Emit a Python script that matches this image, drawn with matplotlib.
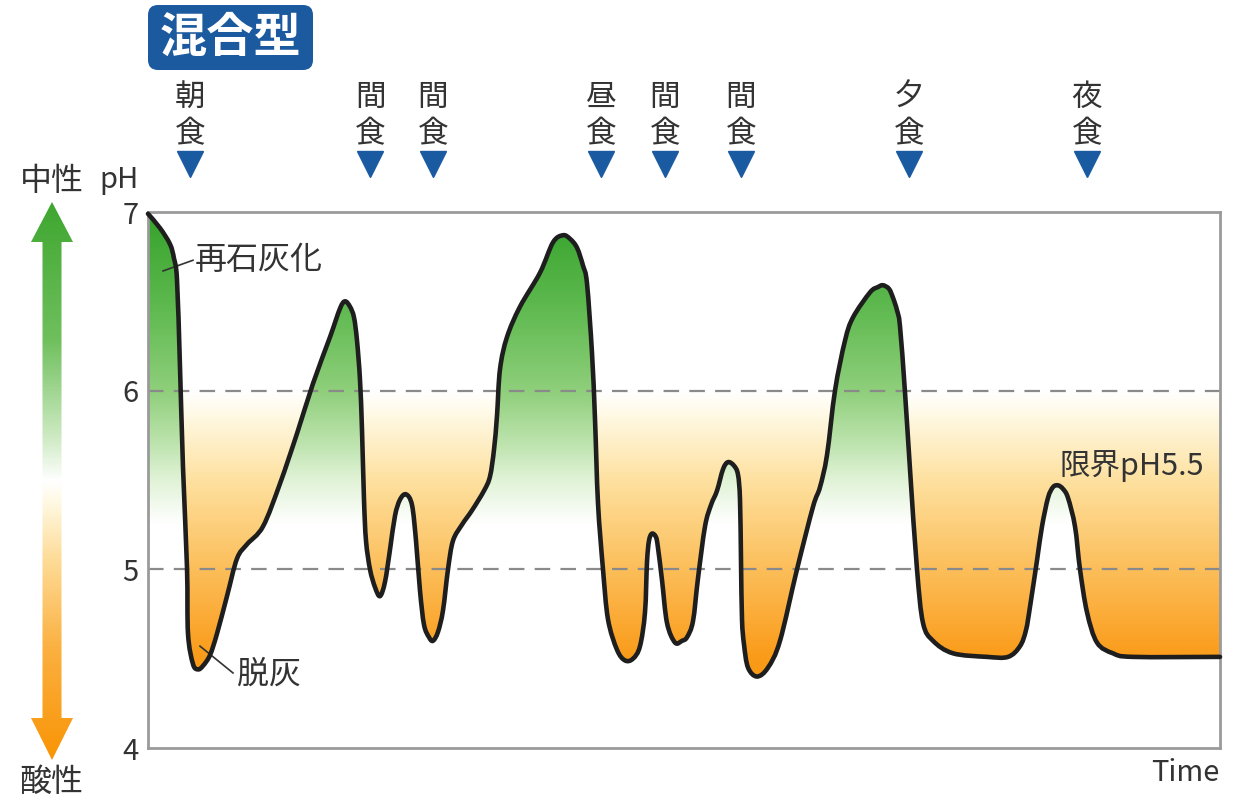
import numpy as np
import matplotlib
matplotlib.use('Agg')
import matplotlib.pyplot as plt
from matplotlib.colors import LinearSegmentedColormap
from matplotlib.patches import FancyBboxPatch, Polygon, PathPatch
from matplotlib.path import Path
from matplotlib import transforms

plt.rcParams['font.family'] = ['Noto Sans CJK JP', 'DejaVu Sans']

# pH curve (time in arbitrary units over one day)
time = [0, 12, 22, 26, 29, 32, 35, 39, 40, 45, 50, 55, 62, 69, 79, 89, 99, 115,
        132, 149, 165, 182, 192, 197, 202, 206, 209, 212, 214, 216, 218, 222, 227,
        232, 237, 242, 247, 252, 258, 264, 268, 272, 276, 281, 285, 290, 295, 300,
        305, 314, 324, 336, 342, 346, 349, 352, 359, 372, 392, 405, 415, 422, 429,
        435, 439, 444, 447, 450, 455, 460, 469, 477, 485, 492, 497, 499, 501, 504,
        508, 510, 514, 519, 527, 534, 539, 545, 550, 557, 563, 569, 575, 580, 586,
        590, 592, 593, 594, 596, 600, 609, 620, 632, 649, 665, 672, 679, 687, 697,
        705, 722, 730, 735, 741, 745, 749, 752, 757, 762, 769, 775, 785, 805, 839,
        860, 872, 878, 882, 889, 894, 900, 905, 910, 915, 920, 927, 932, 939, 949,
        965, 985, 1072]
ph = [6.99, 6.91, 6.82, 6.74, 6.62, 6.13, 5.57, 5.01, 4.64, 4.47, 4.44, 4.46,
      4.52, 4.64, 4.85, 5.06, 5.14, 5.24,
      5.48, 5.76, 6.04, 6.30, 6.46, 6.50, 6.47, 6.41, 6.28, 6.06, 5.78, 5.39, 5.16,
      5.00, 4.90,
      4.85, 4.93, 5.11, 5.30, 5.39, 5.42, 5.36, 5.16, 4.88, 4.69, 4.62, 4.60, 4.65,
      4.77, 5.00,
      5.16, 5.25, 5.33, 5.44, 5.52, 5.67, 5.86, 6.12, 6.30, 6.47, 6.66, 6.83, 6.87,
      6.85, 6.80,
      6.70, 6.60, 6.21, 5.84, 5.37, 5.00, 4.72, 4.55, 4.49, 4.50, 4.57, 4.76, 5.04,
      5.16, 5.20,
      5.18, 5.12, 4.94, 4.70, 4.59, 4.60, 4.62, 4.71, 4.95, 5.24, 5.36, 5.44, 5.56,
      5.60, 5.58,
      5.53, 5.39, 5.05, 4.72, 4.58, 4.45, 4.40, 4.45, 4.60, 5.00, 5.35, 5.46, 5.64,
      6.00, 6.28,
      6.41, 6.55, 6.58, 6.59, 6.57, 6.52, 6.45, 6.36, 5.99, 5.56, 5.00, 4.70, 4.60,
      4.53, 4.51,
      4.51, 4.57, 4.66, 4.79, 5.05, 5.24, 5.40, 5.46, 5.47, 5.45, 5.40, 5.24, 5.00,
      4.76, 4.59,
      4.53, 4.51, 4.51]

meal_times = [42, 222, 285, 453, 517, 593, 761, 939]
meal_labels = ['朝食', '間食', '間食', '昼食', '間食', '間食', '夕食', '夜食']
ph_ticks = [4, 5, 6, 7]
guide_ph = [5, 6]

W, H = 1238, 799
fig = plt.figure(figsize=(W / 100, H / 100), dpi=100)

# full-figure layer in pixel units for the decorations
over = fig.add_axes([0, 0, 1, 1], zorder=0)
over.axis('off')

ax = fig.add_axes([148 / W, (H - 748) / H, 1072 / W, 536 / H], zorder=1)
ax.patch.set_alpha(0)
x0, x1 = 0, 1072


def smooth_path(x, y, sy=178.67):
    # catmull-rom through the read points, drawn as bezier segments
    p = np.column_stack([np.asarray(x, float), np.asarray(y, float) * sy])
    n = len(p)
    verts = [p[0]]
    codes = [Path.MOVETO]
    for i in range(n - 1):
        a = p[max(i - 1, 0)]
        b = p[i]
        c = p[i + 1]
        d = p[min(i + 2, n - 1)]
        verts += [b + (c - a) / 6, c - (d - b) / 6, c]
        codes += [Path.CURVE4] * 3
    verts = np.array(verts)
    verts[:, 1] /= sy
    return verts, codes


cv, cc = smooth_path(time, ph)
curve = Path(cv, cc)
below = Path(np.vstack([cv, [[x1, 4], [x0, 4], [x0, 4]]]),
             cc + [Path.LINETO, Path.LINETO, Path.CLOSEPOLY])
above = Path(np.vstack([cv, [[x1, 7], [x0, 7], [x0, 7]]]),
             cc + [Path.LINETO, Path.LINETO, Path.CLOSEPOLY])

green_cmap = LinearSegmentedColormap.from_list('grn', [
    (0.0, '#ffffff'), (0.4167, '#ffffff'), (0.5, '#e1f3d7'), (0.5667, '#bee4af'),
    (0.6667, '#8fcf7b'), (0.8333, '#5cb84d'), (1.0, '#35a22b')])
orange_cmap = LinearSegmentedColormap.from_list('org', [
    (0.0, '#f99405'), (0.1667, '#fa9b19'), (0.3333, '#fcbe5a'), (0.5, '#fee1a0'),
    (0.6167, '#fff8e1'), (0.6667, '#ffffff'), (1.0, '#ffffff')])

grad = np.linspace(4, 7, 500).reshape(-1, 1)

im_g = ax.imshow(grad, cmap=green_cmap, vmin=4, vmax=7, origin='lower',
                 extent=[x0, x1, 4, 7], aspect='auto', interpolation='bilinear', zorder=1)
im_g.set_clip_path(below, transform=ax.transData)
im_o = ax.imshow(grad, cmap=orange_cmap, vmin=4, vmax=7, origin='lower',
                 extent=[x0, x1, 4, 7], aspect='auto', interpolation='bilinear', zorder=1)
im_o.set_clip_path(above, transform=ax.transData)

for g in guide_ph:
    ax.axhline(g, color='#8a8a8a', lw=1.6, dashes=(7, 4.6), zorder=2)

ax.add_patch(PathPatch(curve, fill=False, ec='#1e1e1e', lw=3.3, joinstyle='round',
                       capstyle='round', zorder=4, clip_on=False))

# annotations
ax.plot([15, 45], [6.67, 6.73], color='#333333', lw=1.2, zorder=3)
ax.text(47, 6.73, '再石灰化', fontsize=23, color='#333333', ha='left', va='center')
ax.plot([52, 85], [4.57, 4.42], color='#333333', lw=1.2, zorder=3)
ax.text(89, 4.41, '脱灰', fontsize=23, color='#333333', ha='left', va='center')
ax.text(912, 5.58, '限界pH5.5', fontsize=22, color='#333333', ha='left', va='center')
ax.text(1.0, -0.047, 'Time', transform=ax.transAxes, fontsize=21, color='#333333',
        ha='right', va='center')

ax.set_xlim(x0, x1)
ax.set_ylim(4, 7)
ax.set_xticks([])
ax.set_yticks(ph_ticks)
ax.set_yticklabels([str(t) for t in ph_ticks])
ax.tick_params(axis='y', length=0, pad=7, labelsize=21, labelcolor='#333333')
for s in ax.spines.values():
    s.set_color('#9a9a9a')
    s.set_linewidth(2)

# meal markers: x follows the data axis, y in figure pixels
trans = transforms.blended_transform_factory(ax.transData, over.transData)
over.plot(meal_times, [164] * len(meal_times), linestyle='none', marker='v', ms=19,
          color='#1a5aa0', transform=trans, clip_on=False)
for t, lab in zip(meal_times, meal_labels):
    over.text(t, 97, lab[0], transform=trans, ha='center', va='center', fontsize=22,
              color='#333333')
    over.text(t, 134, lab[1], transform=trans, ha='center', va='center', fontsize=22,
              color='#333333')

# left pH direction arrow with gradient
arrow_cmap = LinearSegmentedColormap.from_list('arr', [
    (0.0, '#3ea62f'), (0.25, '#70c05e'), (0.42, '#cdeac2'), (0.5, '#ffffff'),
    (0.54, '#fff8e1'), (0.64, '#fedc98'), (0.8, '#fbb040'), (1.0, '#f99405')])
arr_grad = np.linspace(0, 1, 400).reshape(-1, 1)
arr = over.imshow(arr_grad, cmap=arrow_cmap, origin='upper', extent=[28, 76, 762, 200],
                  aspect='auto', interpolation='bilinear')
arrow_shape = Polygon([(52, 202), (73, 242), (61.5, 242), (61.5, 718), (73, 718),
                       (52, 760), (31, 718), (42.5, 718), (42.5, 242), (31, 242)],
                      closed=True, fc='none', ec='none', transform=over.transData)
over.add_patch(arrow_shape)
arr.set_clip_path(arrow_shape)

over.text(52, 181, '中性', fontsize=23, color='#333333', ha='center', va='center')
over.text(51, 782, '酸性', fontsize=23, color='#333333', ha='center', va='center')
over.text(119, 180, 'pH', fontsize=21, color='#333333', ha='center', va='center')

# title badge
over.add_patch(FancyBboxPatch((148, 5), 165, 65, boxstyle='round,pad=0,rounding_size=10',
                              fc='#1b5a9e', ec='none'))
over.text(230.5, 38, '混合型', fontsize=34, fontweight='bold', color='white',
          ha='center', va='center')

over.set_xlim(0, W)
over.set_ylim(H, 0)

fig.savefig('out.png', dpi=100)
